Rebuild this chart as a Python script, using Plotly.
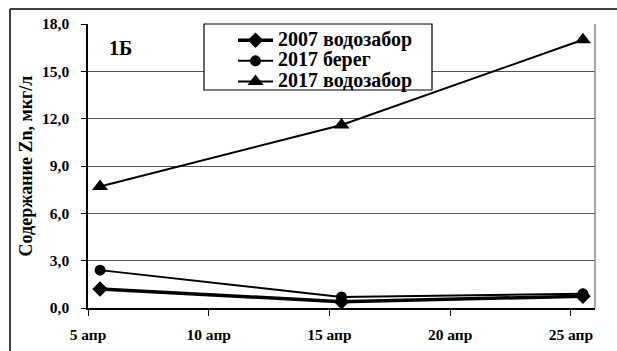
import plotly.graph_objects as go

# Sampling days in April (midday of each day) and zinc content, µg/L
days = [5.5, 15.5, 25.5]
zn_2007_intake = [1.2, 0.4, 0.75]
zn_2017_shore = [2.4, 0.7, 0.9]
zn_2017_intake = [7.7, 11.6, 17.0]

series_names = ["2007 водозабор", "2017 берег", "2017 водозабор"]
tick_days = [5, 10, 15, 20, 25]
tick_labels = ["5 апр", "10 апр", "15 апр", "20 апр", "25 апр"]
y_ticks = [0, 3, 6, 9, 12, 15, 18]
y_labels = ["0,0", "3,0", "6,0", "9,0", "12,0", "15,0", "18,0"]

FONT = "'Times New Roman', 'Liberation Serif', Tinos, serif"

def b(s):
    return f"<b>{s}</b>"

def legend_label(s):
    # large bold text inside a compact legend row
    return f'<span style="font-size:20px"><b>{s}</b></span>'

fig = go.Figure()
fig.add_trace(go.Scatter(
    x=days, y=zn_2007_intake, name=legend_label(series_names[0]), mode="lines+markers",
    line=dict(color="black", width=3.5),
    marker=dict(symbol="diamond", size=12, color="black"),
))
fig.add_trace(go.Scatter(
    x=days, y=zn_2017_shore, name=legend_label(series_names[1]), mode="lines+markers",
    line=dict(color="black", width=2),
    marker=dict(symbol="circle", size=11, color="black"),
))
fig.add_trace(go.Scatter(
    x=days, y=zn_2017_intake, name=legend_label(series_names[2]), mode="lines+markers",
    line=dict(color="black", width=2),
    marker=dict(symbol="triangle-up", size=14, color="black"),
))

L, R, T, B = 88, 22, 24, 43
W, H = 617, 351
pw, ph = W - L - R, H - T - B

def px_to_paper_x(px):
    return (px - L) / pw

def px_to_paper_y(py):
    return (H - B - py) / ph

fig.update_layout(
    width=W, height=H,
    margin=dict(l=L, r=R, t=T, b=B, pad=0, autoexpand=False),
    paper_bgcolor="white", plot_bgcolor="white",
    font=dict(family=FONT, size=15, color="black"),
    hovermode=False,
    showlegend=True,
    legend=dict(
        x=px_to_paper_x(233), y=px_to_paper_y(25), xanchor="left", yanchor="top",
        bgcolor="rgba(0,0,0,0)", borderwidth=0,
        font=dict(family=FONT, size=13.5, color="black"),
        tracegroupgap=0, itemwidth=35,
    ),
    xaxis=dict(
        range=[5, 26], tickmode="array", tickvals=tick_days,
        ticktext=[b(t) for t in tick_labels],
        showgrid=False, zeroline=False, automargin=False,
        showline=True, linecolor="black", linewidth=1.5,
        ticks="outside", ticklen=6, tickcolor="black", tickwidth=1,
        ticklabelstandoff=6,
        tickfont=dict(family=FONT, size=15.5),
    ),
    yaxis=dict(
        range=[0, 18], tickmode="array", tickvals=y_ticks,
        ticktext=[b(t) for t in y_labels],
        showgrid=True, gridcolor="#555555", gridwidth=1, zeroline=False,
        automargin=False,
        showline=True, linecolor="black", linewidth=1.5,
        ticks="outside", ticklen=5, tickcolor="black", tickwidth=1,
        ticklabelstandoff=9,
        tickfont=dict(family=FONT, size=15.5),
        title=dict(text=b("Содержание Zn, мкг/л"), standoff=5,
                   font=dict(family=FONT, size=18)),
    ),
    annotations=[dict(
        text=b("1Б"), x=px_to_paper_x(120), y=px_to_paper_y(48),
        xref="paper", yref="paper", xanchor="center", yanchor="middle",
        showarrow=False,
        font=dict(family=FONT, size=20, color="black"),
    )],
    shapes=[
        # right border of the plotting area
        dict(type="line", xref="paper", yref="paper", x0=1, x1=1, y0=0, y1=1,
             line=dict(color="#888888", width=1.5)),
        # legend frame
        dict(type="rect", xref="paper", yref="paper", layer="above",
             x0=px_to_paper_x(204), x1=px_to_paper_x(432),
             y0=px_to_paper_y(90), y1=px_to_paper_y(24),
             fillcolor="white", line=dict(color="black", width=1.2)),
        # outer frame: left and top edges
        dict(type="line", xref="paper", yref="paper",
             x0=px_to_paper_x(10), x1=px_to_paper_x(10),
             y0=px_to_paper_y(9), y1=px_to_paper_y(352),
             line=dict(color="black", width=1.5)),
        dict(type="line", xref="paper", yref="paper",
             x0=px_to_paper_x(10), x1=px_to_paper_x(618),
             y0=px_to_paper_y(9), y1=px_to_paper_y(9),
             line=dict(color="black", width=1.5)),
    ],
)

fig.write_html("out.html")
